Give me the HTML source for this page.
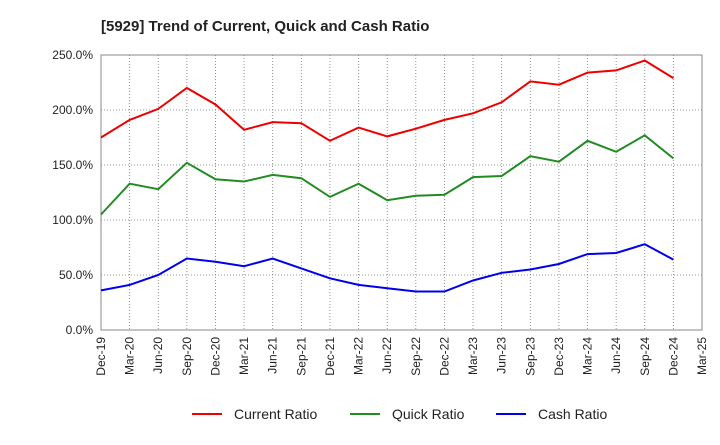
<!DOCTYPE html>
<html><head><meta charset="utf-8"><style>
body{margin:0;background:#fff;font-family:"Liberation Sans",sans-serif}
</style></head><body>
<svg width="720" height="440" xmlns="http://www.w3.org/2000/svg" font-family="Liberation Sans, sans-serif">
<text x="101" y="31" font-size="15" font-weight="bold" fill="#222">[5929]  Trend of Current, Quick and Cash Ratio</text>
<g id="grid"></g>
<g id="axes"></g>
<g id="series"></g>
<g id="legend"></g>
</svg>
<script>
const categories=["Dec-19","Mar-20","Jun-20","Sep-20","Dec-20","Mar-21","Jun-21","Sep-21","Dec-21","Mar-22","Jun-22","Sep-22","Dec-22","Mar-23","Jun-23","Sep-23","Dec-23","Mar-24","Jun-24","Sep-24","Dec-24","Mar-25"];
const currentRatio=[175,191,201,220,205,182,189,188,172,184,176,183,191,197,207,226,223,234,236,245,229];
const quickRatio=[105,133,128,152,137,135,141,138,121,133,118,122,123,139,140,158,153,172,162,177,156];
const cashRatio=[36,41,50,65,62,58,65,56,47,41,38,35,35,45,52,55,60,69,70,78,64];
const yTicks=[0,50,100,150,200,250];
const seriesNames=["Current Ratio","Quick Ratio","Cash Ratio"];
const NS="http://www.w3.org/2000/svg";
const L=101,R=702,T=55,B=330,yMax=250;
const xs=i=>L+(R-L)*i/(categories.length-1);
const ys=v=>B-(B-T)*v/yMax;
function mk(tag,attrs,parent){const e=document.createElementNS(NS,tag);for(const k in attrs)e.setAttribute(k,attrs[k]);parent.appendChild(e);return e;}
const grid=document.getElementById('grid'),axes=document.getElementById('axes'),ser=document.getElementById('series'),leg=document.getElementById('legend');
categories.forEach((c,i)=>{
 const x=xs(i);
 const g=mk('line',{x1:x,x2:x,y1:T,y2:B,stroke:'#777','stroke-width':0.8,'stroke-dasharray':'1,2'},grid);
 
 
 const t=mk('text',{x:0,y:0,'font-size':12,fill:'#222','text-anchor':'end',transform:`translate(${x+4},${B+7}) rotate(-90)`},axes);
 t.textContent=c;
 
 
});
yTicks.forEach(v=>{
 const y=ys(v);
 const g=mk('line',{x1:L,x2:R,y1:y,y2:y,stroke:'#777','stroke-width':0.8,'stroke-dasharray':'1,2'},grid);
 
 
 const t=mk('text',{x:L-8,y:y+4,'font-size':12,fill:'#222','text-anchor':'end'},axes);
 t.textContent=v.toFixed(1)+'%';
 
 
});
const box=mk('rect',{x:L,y:T,width:R-L,height:B-T,fill:'none',stroke:'#888','stroke-width':1},axes);


const colors=['#e00','#228b22','#00e'];
[currentRatio,quickRatio,cashRatio].forEach((arr,k)=>{
 const p=mk('polyline',{points:arr.map((v,i)=>xs(i)+','+ys(v)).join(' '),fill:'none',stroke:colors[k],'stroke-width':2},ser);
 
 
});
const lx=[192,350,496];
seriesNames.forEach((n,k)=>{
 const l=mk('line',{x1:lx[k],x2:lx[k]+30,y1:414,y2:414,stroke:colors[k],'stroke-width':2},leg);
 
 
 const t=mk('text',{x:lx[k]+42,y:419,'font-size':14,fill:'#222'},leg);
 t.textContent=n;
 
 
});
</script>
</body></html>
